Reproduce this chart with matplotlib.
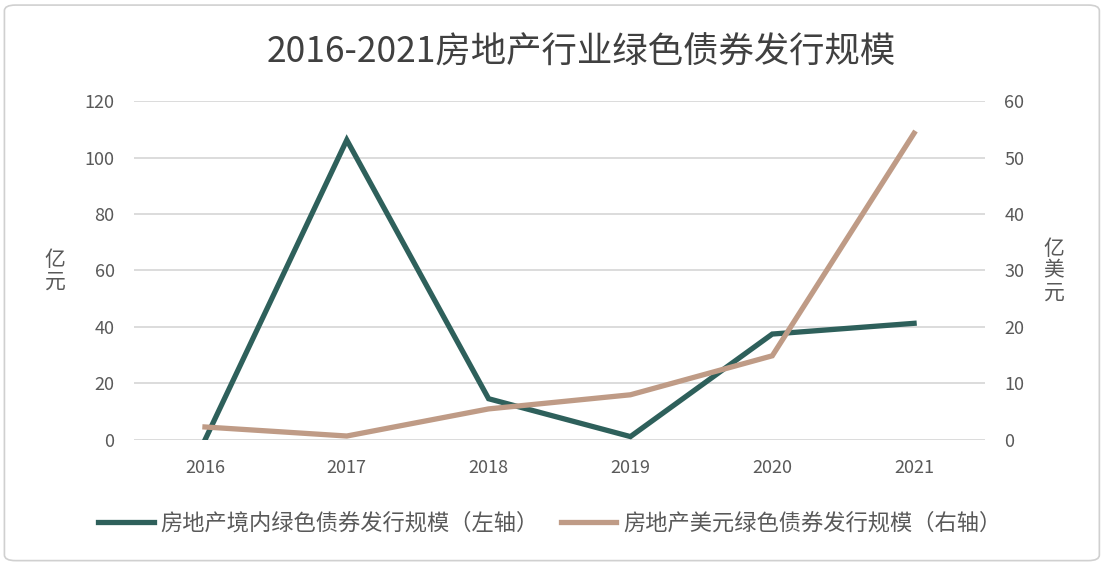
import matplotlib.pyplot as plt
from matplotlib.patches import FancyBboxPatch

plt.rcParams['font.family'] = ['Noto Sans CJK SC', 'DejaVu Sans']

# data
years = ['2016', '2017', '2018', '2019', '2020', '2021']
domestic = [0, 106.2, 14.6, 1.2, 37.5, 41.3]   # 亿元, left axis
usd = [2.3, 0.7, 5.5, 8.0, 14.9, 54.3]         # 亿美元, right axis

green = '#2E605B'
tan = '#BF9B86'
grey = '#595959'

fig = plt.figure(figsize=(11.06, 5.64), dpi=100)
ax = fig.add_axes([0.1212, 0.2199, 0.7694, 0.601])
ax2 = ax.twinx()

x = range(len(years))
l1, = ax.plot(x, domestic, color=green, lw=3.8, solid_joinstyle='miter',
              label='房地产境内绿色债券发行规模（左轴）', zorder=3)
l2, = ax2.plot(x, usd, color=tan, lw=3.8, solid_joinstyle='miter',
               label='房地产美元绿色债券发行规模（右轴）', zorder=3)

ax.set_xlim(-0.5, 5.5)
ax.set_ylim(0, 120)
ax2.set_ylim(0, 60)
ax.set_yticks(range(0, 121, 20))
ax2.set_yticks(range(0, 61, 10))
ax.set_xticks(list(x))
ax.set_xticklabels(years)

ax.grid(axis='y', color='#D9D9D9', lw=1.3)
ax.set_axisbelow(True)
for a in (ax, ax2):
    for s in a.spines.values():
        s.set_visible(False)
    a.tick_params(length=0, labelsize=13, labelcolor=grey)
ax.tick_params(axis='y', pad=14)
ax2.tick_params(axis='y', pad=14)
ax.tick_params(axis='x', pad=14)

fig.text(0.05, 0.52, '亿\n元', fontsize=15, color=grey, ha='center', va='center',
         linespacing=1.0)
fig.text(0.953, 0.52, '亿\n美\n元', fontsize=15, color=grey, ha='center', va='center',
         linespacing=1.0)

fig.text(0.526, 0.906, '2016-2021房地产行业绿色债券发行规模', fontsize=25.5,
         color='#404040', ha='center', va='center')

fig.legend(handles=[l1, l2], loc='center', bbox_to_anchor=(0.497, 0.073), ncol=2,
           frameon=False, fontsize=16, labelcolor=grey, handlelength=2.5,
           handletextpad=0.3, columnspacing=1.0)

border = FancyBboxPatch((0.004, 0.006), 0.99, 0.985, boxstyle='round,pad=0,rounding_size=0.01',
                        transform=fig.transFigure, fill=False, ec='#D0D0D0', lw=1.2)
fig.patches.append(border)

fig.savefig('out.png', dpi=100)
